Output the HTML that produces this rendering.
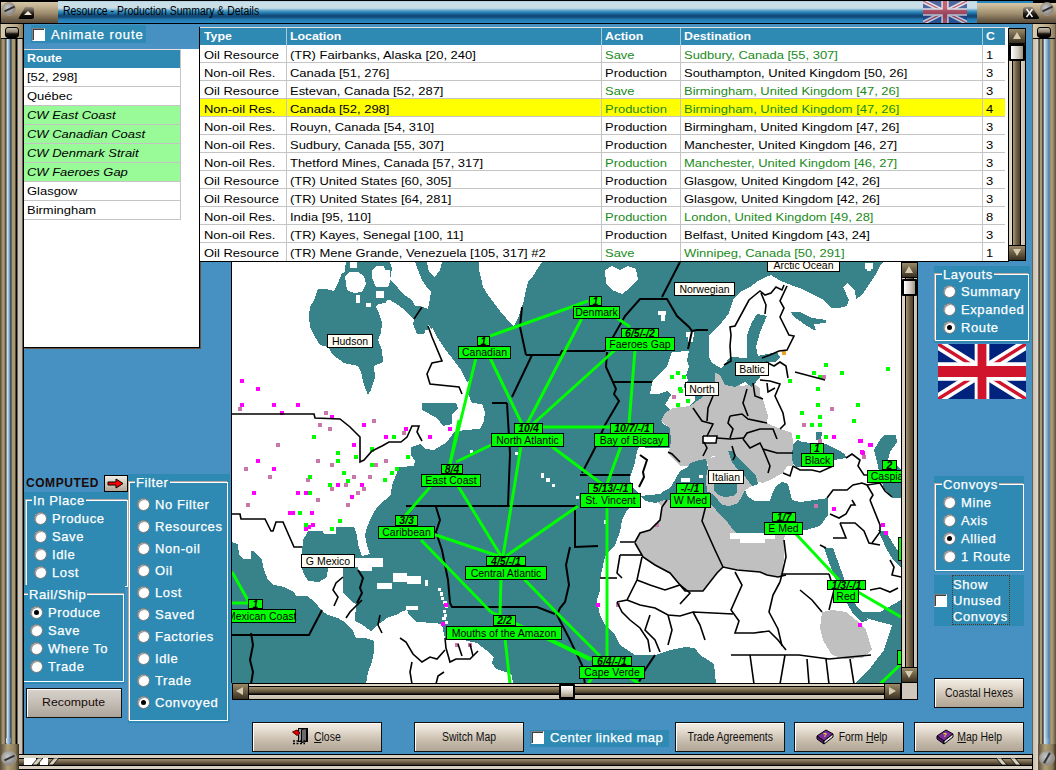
<!DOCTYPE html>
<html><head><meta charset="utf-8">
<style>
*{margin:0;padding:0;box-sizing:border-box}
html,body{width:1056px;height:770px;overflow:hidden}
body{position:relative;background:#4790c2;font-family:"Liberation Sans",sans-serif;}
.a{position:absolute}
.tx{position:absolute;white-space:nowrap}
.vs{display:inline-block;transform:scaleX(1.178);transform-origin:0 0;white-space:nowrap}
.ns{display:inline-block;transform:scaleX(0.87);transform-origin:0 0;white-space:nowrap}
.panel{position:absolute;background:#2e8ab3}
.grp{position:absolute;border:1px solid #fff;box-shadow:-1px -1px 0 #b8a8a4}
.glab{position:absolute;color:#fff;font-size:13px;letter-spacing:.6px;background:#2e8ab3;line-height:14px;padding:0 1px 0 1px;-webkit-text-stroke:.25px #fff}
.rl{position:absolute;color:#fff;font-size:13px;letter-spacing:.6px;line-height:14px;white-space:nowrap;-webkit-text-stroke:.25px #fff}
.rd{position:absolute;width:13px;height:13px;border-radius:50%;background:#fff;border:1px solid #777;box-shadow:inset 1px 1px 0 #999}
.rd.on::after{content:"";position:absolute;left:3px;top:3px;width:5px;height:5px;border-radius:50%;background:#000}
.btn{position:absolute;border:1px solid #111;background:linear-gradient(#f2ede5 0%,#e6ded2 25%,#d2c8ba 50%,#c0b4a4 75%,#b2a696 100%);box-shadow:inset 1px 1px 0 #fff;font-size:12px;color:#111;text-align:center}
.btn .ns{transform-origin:50% 0}
.cb{position:absolute;width:13px;height:13px;background:#fff;border:1px solid;border-color:#808080 #fff #fff #808080;box-shadow:inset 1px 1px 0 #404040}
</style></head><body>

<!-- ============ FRAME ============ -->
<!-- top bar -->
<div class="a" style="left:0;top:0;width:1056px;height:24px;background:#000"></div>
<div class="a" style="left:1px;top:2px;width:57px;height:21px;background:linear-gradient(#d6c7a8 0%,#bfae8c 25%,#9c8b6c 55%,#73634c 80%,#5a4c3c 100%)"></div>
<div class="a" style="left:58px;top:1px;width:920px;height:22px;background:linear-gradient(#9cc8e4 0px,#c8dfe8 1px,#c8dfe8 7px,#a8cce0 8px,#70acd0 9px,#4898c0 10px,#3088b8 11px,#2078a8 12px,#1a68a0 13px,#124a78 14px,#124a78 16px,#1a5a8c 17px,#2078b0 18px,#2a86c0 21px)"></div>
<div class="tx" style="left:63px;top:4px;font-size:12px;line-height:14px;color:#000"><span class="ns">Resource - Production Summary &amp; Details</span></div>
<!-- title flag -->
<svg class="a" style="left:923px;top:1px;opacity:.75" width="44" height="22" viewBox="0 0 60 30" preserveAspectRatio="none">
<rect width="60" height="30" fill="#2a3f86"/>
<path d="M0,0 L60,30 M60,0 L0,30" stroke="#e8e8f0" stroke-width="6"/>
<path d="M0,0 L60,30 M60,0 L0,30" stroke="#c84050" stroke-width="2"/>
<path d="M30,0 V30 M0,15 H60" stroke="#e8e8f0" stroke-width="10"/>
<path d="M30,0 V30 M0,15 H60" stroke="#c83848" stroke-width="6"/>
</svg>
<div class="a" style="left:977px;top:1px;width:56px;height:2px;background:#2a86c0"></div>
<div class="a" style="left:977px;top:3px;width:79px;height:20px;background:linear-gradient(#d6c7a8 0%,#bfae8c 25%,#9c8b6c 55%,#73634c 80%,#5a4c3c 100%)"></div>
<!-- screws -->
<div class="a" style="left:2px;top:2px;width:14px;height:14px;border-radius:50%;background:radial-gradient(circle at 40% 40%,#c8c8c8,#8a8a8a 70%,#6a6a6a);border:1px solid #a09078"></div>
<div class="a" style="left:4px;top:8px;width:11px;height:2px;background:#333;transform:rotate(-25deg)"></div>
<div class="a" style="left:1040px;top:2px;width:14px;height:14px;border-radius:50%;background:radial-gradient(circle at 40% 40%,#c8c8c8,#8a8a8a 70%,#6a6a6a);border:1px solid #a09078"></div>
<div class="a" style="left:1042px;top:8px;width:11px;height:2px;background:#333;transform:rotate(-25deg)"></div>
<!-- min button -->
<div class="a" style="left:18px;top:7px;width:16px;height:12px;background:linear-gradient(#9a9080,#1a1610 60%,#000);border-radius:3px 3px 2px 2px;clip-path:polygon(45% 0,100% 0,100% 100%,0 100%)"></div>
<div class="a" style="left:24px;top:11px;width:0;height:0;border-left:4px solid transparent;border-right:4px solid transparent;border-bottom:4px solid #f0e8d8"></div>
<!-- close button -->
<div class="a" style="left:1023px;top:7px;width:17px;height:12px;background:linear-gradient(#9a9080,#1a1610 60%,#000);border-radius:3px;clip-path:polygon(0 0,55% 0,100% 100%,0 100%)"></div>
<svg class="a" style="left:1025px;top:8px" width="9" height="10" viewBox="0 0 9 10"><path d="M1.5,1 L7.5,9 M7.5,1 L1.5,9" stroke="#fff" stroke-width="1.4"/></svg>

<!-- left frame -->
<div class="a" style="left:0;top:24px;width:24px;height:730px;background:linear-gradient(90deg,#4a4234 0px,#b0a078 3px,#8a7a58 5px,#222 6px,#e0ecf8 7px,#8ab0d0 9px,#4a80b0 10px,#303030 11px,#a89870 12px,#a89870 15px,#000 16px,#000 17px,#d0c8b8 18px,#c8c0b0 22px,#000 23px)"></div>
<div class="a" style="left:1px;top:24px;width:22px;height:15px;background:linear-gradient(90deg,#d8ccb0,#b8a888 70%,#8a7a5a);border-bottom:1px solid #000"></div>
<div class="a" style="left:5px;top:27px;width:14px;height:11px;background:linear-gradient(#c8c0a8,#8a8070 45%,#181410 65%,#000);border-radius:3px;border:1px solid #000"></div>
<!-- right frame -->
<div class="a" style="left:1032px;top:24px;width:24px;height:730px;background:linear-gradient(90deg,#000 0px,#c8c0b0 1px,#e0d8c8 6px,#000 7px,#a89870 8px,#a89870 10px,#000 11px,#d8e8f4 12px,#8ab0d0 15px,#4080b8 17px,#9a8a68 18px,#b0a078 20px,#5a5040 24px)"></div>
<div class="a" style="left:1033px;top:24px;width:22px;height:15px;background:linear-gradient(90deg,#d8ccb0,#b8a888 70%,#8a7a5a);border-bottom:1px solid #000"></div>
<div class="a" style="left:1037px;top:27px;width:14px;height:11px;background:linear-gradient(#c8c0a8,#8a8070 45%,#181410 65%,#000);border-radius:3px;border:1px solid #000"></div>
<!-- bottom frame -->
<div class="a" style="left:0;top:754px;width:1056px;height:16px;background:linear-gradient(#000 0px,#000 1px,#d8d0c0 1px,#d8d0c0 4px,#000 4px,#000 5px,#a09070 5px,#70604a 8px,#3a3020 11px,#000 11px,#000 12px,#d8d0c0 12px,#d8d0c0 15px,#000 15px)"></div>
<div class="a" style="left:0;top:744px;width:19px;height:26px;background:linear-gradient(90deg,#5a4c3c,#b0a078 40%,#8a7a58 80%,#3a3020)"></div>
<div class="a" style="left:6px;top:738px;width:5px;height:7px;background:linear-gradient(90deg,#e0ecf8,#4a80b0);clip-path:polygon(0 0,100% 0,100% 60%,50% 100%,0 60%)"></div>
<div class="a" style="left:1px;top:750px;width:16px;height:16px;border-radius:50%;background:radial-gradient(circle at 40% 40%,#c8c8c8,#8a8a8a 70%,#6a6a6a);border:1px solid #a09078"></div>
<div class="a" style="left:4px;top:757px;width:11px;height:2px;background:#333;transform:rotate(-25deg)"></div>
<svg class="a" style="left:24px;top:758px" width="40" height="8" viewBox="0 0 40 8"><rect x="0" y="0" width="12" height="7" fill="#fff"/><rect x="16" y="0" width="8" height="7" fill="#fff"/><path d="M8,7 L14,0 H19 L13,7 Z M24,7 L30,0 H35 L29,7 Z" fill="#d8d0c0" stroke="#000" stroke-width=".8"/></svg>
<div class="a" style="left:1032px;top:754px;width:7px;height:16px;background:linear-gradient(90deg,#000 0,#000 1px,#c8c0b0 1px,#e0d8c8 6px,#000 6px)"></div>
<div class="a" style="left:1038px;top:744px;width:18px;height:26px;background:linear-gradient(90deg,#5a4c3c,#b0a078 40%,#8a7a58 80%,#3a3020)"></div>
<div class="a" style="left:1044px;top:738px;width:6px;height:7px;background:linear-gradient(90deg,#e0ecf8,#4a80b0);clip-path:polygon(0 0,100% 0,100% 60%,50% 100%,0 60%)"></div>
<div class="a" style="left:1039px;top:750px;width:16px;height:16px;border-radius:50%;background:radial-gradient(circle at 40% 40%,#c8c8c8,#8a8a8a 70%,#6a6a6a);border:1px solid #a09078"></div>
<div class="a" style="left:1041px;top:757px;width:12px;height:2px;background:#333;transform:rotate(-60deg)"></div>
<svg class="a" style="left:990px;top:758px" width="42" height="8" viewBox="0 0 42 8"><path d="M6,0 H11 L17,7 H12 Z M20,0 H25 L31,7 H26 Z" fill="#d8d0c0" stroke="#000" stroke-width=".8"/></svg>

<!-- ============ ANIMATE ROUTE ============ -->
<div class="panel" style="left:31px;top:25px;width:115px;height:18px"></div>
<div class="cb" style="left:32px;top:28px"></div>
<div class="tx" style="left:51px;top:28px;font-size:13px;line-height:14px;color:#fff;letter-spacing:.9px;-webkit-text-stroke:.25px #fff">Animate route</div>

<!-- ============ ROUTE LIST ============ -->
<div class="a" style="left:24px;top:44px;width:176px;height:304px;background:#fff;border-right:1px solid #000;border-bottom:1px solid #000;box-shadow:1px 1px 0 #6a5040"></div>
<div class="a" style="left:24px;top:44px;width:176px;height:5px;background:#4a92c4"></div>
<div class="a" style="left:24px;top:49px;width:157px;height:1px;background:#e8e0dc"></div>
<div class="a" style="left:24px;top:50px;width:157px;height:18px;background:#2e8ab3"></div>
<div class="tx" style="left:27px;top:52px;font-size:11px;line-height:13px;font-weight:bold;color:#fff"><span class="vs" style="transform:scaleX(1.12)">Route</span></div>
<div class="a" style="left:24px;top:68px;width:157px;height:18px;background:#fff"></div>
<div class="a" style="left:24px;top:86px;width:157px;height:1px;background:#c4c4c4"></div>
<div class="tx" style="left:27px;top:71px;font-size:11px;line-height:13px;color:#000;"><span class="vs">[52, 298]</span></div>
<div class="a" style="left:24px;top:87px;width:157px;height:18px;background:#fff"></div>
<div class="a" style="left:24px;top:105px;width:157px;height:1px;background:#c4c4c4"></div>
<div class="tx" style="left:27px;top:90px;font-size:11px;line-height:13px;color:#000;"><span class="vs">Québec</span></div>
<div class="a" style="left:24px;top:106px;width:157px;height:18px;background:#98fb98"></div>
<div class="a" style="left:24px;top:124px;width:157px;height:1px;background:#c4c4c4"></div>
<div class="tx" style="left:27px;top:109px;font-size:11px;line-height:13px;color:#000;font-style:italic;"><span class="vs">CW East Coast</span></div>
<div class="a" style="left:24px;top:125px;width:157px;height:18px;background:#98fb98"></div>
<div class="a" style="left:24px;top:143px;width:157px;height:1px;background:#c4c4c4"></div>
<div class="tx" style="left:27px;top:128px;font-size:11px;line-height:13px;color:#000;font-style:italic;"><span class="vs">CW Canadian Coast</span></div>
<div class="a" style="left:24px;top:144px;width:157px;height:18px;background:#98fb98"></div>
<div class="a" style="left:24px;top:162px;width:157px;height:1px;background:#c4c4c4"></div>
<div class="tx" style="left:27px;top:147px;font-size:11px;line-height:13px;color:#000;font-style:italic;"><span class="vs">CW Denmark Strait</span></div>
<div class="a" style="left:24px;top:163px;width:157px;height:18px;background:#98fb98"></div>
<div class="a" style="left:24px;top:181px;width:157px;height:1px;background:#c4c4c4"></div>
<div class="tx" style="left:27px;top:166px;font-size:11px;line-height:13px;color:#000;font-style:italic;"><span class="vs">CW Faeroes Gap</span></div>
<div class="a" style="left:24px;top:182px;width:157px;height:18px;background:#fff"></div>
<div class="a" style="left:24px;top:200px;width:157px;height:1px;background:#c4c4c4"></div>
<div class="tx" style="left:27px;top:185px;font-size:11px;line-height:13px;color:#000;"><span class="vs">Glasgow</span></div>
<div class="a" style="left:24px;top:201px;width:157px;height:18px;background:#fff"></div>
<div class="a" style="left:24px;top:219px;width:157px;height:1px;background:#c4c4c4"></div>
<div class="tx" style="left:27px;top:204px;font-size:11px;line-height:13px;color:#000;"><span class="vs">Birmingham</span></div>
<div class="a" style="left:180px;top:50px;width:1px;height:170px;background:#c4c4c4"></div>

<!-- ============ TABLE ============ -->
<div class="a" style="left:199px;top:27px;width:810px;height:235px;background:#fff;border-left:1px solid #000;border-bottom:1px solid #000"></div>
<div class="a" style="left:200px;top:27px;width:808px;height:1px;background:#e8e0dc"></div>
<div class="a" style="left:200px;top:28px;width:805px;height:17px;background:#2e8ab3"></div>
<div class="tx" style="left:204px;top:30px;font-size:11px;line-height:13px;font-weight:bold;color:#fff"><span class="vs" style="transform:scaleX(1.12)">Type</span></div>
<div class="tx" style="left:290px;top:30px;font-size:11px;line-height:13px;font-weight:bold;color:#fff"><span class="vs" style="transform:scaleX(1.12)">Location</span></div>
<div class="tx" style="left:605px;top:30px;font-size:11px;line-height:13px;font-weight:bold;color:#fff"><span class="vs" style="transform:scaleX(1.12)">Action</span></div>
<div class="tx" style="left:684px;top:30px;font-size:11px;line-height:13px;font-weight:bold;color:#fff"><span class="vs" style="transform:scaleX(1.12)">Destination</span></div>
<div class="tx" style="left:986px;top:30px;font-size:11px;line-height:13px;font-weight:bold;color:#fff"><span class="vs" style="transform:scaleX(1.12)">C</span></div>
<div class="a" style="left:200px;top:62px;width:805px;height:1px;background:#c4c4c4"></div>
<div class="tx" style="left:204px;top:49px;font-size:11px;line-height:13px;color:#000"><span class="vs">Oil Resource</span></div>
<div class="tx" style="left:290px;top:49px;font-size:11px;line-height:13px;color:#000"><span class="vs">(TR) Fairbanks, Alaska [20, 240]</span></div>
<div class="tx" style="left:605px;top:49px;font-size:11px;line-height:13px;color:#1a8a1a"><span class="vs">Save</span></div>
<div class="tx" style="left:684px;top:49px;font-size:11px;line-height:13px;color:#1a8a1a"><span class="vs">Sudbury, Canada [55, 307]</span></div>
<div class="tx" style="left:986px;top:49px;font-size:11px;line-height:13px;color:#000"><span class="vs">1</span></div>
<div class="a" style="left:200px;top:80px;width:805px;height:1px;background:#c4c4c4"></div>
<div class="tx" style="left:204px;top:67px;font-size:11px;line-height:13px;color:#000"><span class="vs">Non-oil Res.</span></div>
<div class="tx" style="left:290px;top:67px;font-size:11px;line-height:13px;color:#000"><span class="vs">Canada [51, 276]</span></div>
<div class="tx" style="left:605px;top:67px;font-size:11px;line-height:13px;color:#000"><span class="vs">Production</span></div>
<div class="tx" style="left:684px;top:67px;font-size:11px;line-height:13px;color:#000"><span class="vs">Southampton, United Kingdom [50, 26]</span></div>
<div class="tx" style="left:986px;top:67px;font-size:11px;line-height:13px;color:#000"><span class="vs">3</span></div>
<div class="a" style="left:200px;top:98px;width:805px;height:1px;background:#c4c4c4"></div>
<div class="tx" style="left:204px;top:85px;font-size:11px;line-height:13px;color:#000"><span class="vs">Oil Resource</span></div>
<div class="tx" style="left:290px;top:85px;font-size:11px;line-height:13px;color:#000"><span class="vs">Estevan, Canada [52, 287]</span></div>
<div class="tx" style="left:605px;top:85px;font-size:11px;line-height:13px;color:#1a8a1a"><span class="vs">Save</span></div>
<div class="tx" style="left:684px;top:85px;font-size:11px;line-height:13px;color:#1a8a1a"><span class="vs">Birmingham, United Kingdom [47, 26]</span></div>
<div class="tx" style="left:986px;top:85px;font-size:11px;line-height:13px;color:#000"><span class="vs">3</span></div>
<div class="a" style="left:200px;top:99px;width:805px;height:17px;background:#ffff00"></div>
<div class="a" style="left:200px;top:116px;width:805px;height:1px;background:#c4c4c4"></div>
<div class="tx" style="left:204px;top:103px;font-size:11px;line-height:13px;color:#000"><span class="vs">Non-oil Res.</span></div>
<div class="tx" style="left:290px;top:103px;font-size:11px;line-height:13px;color:#000"><span class="vs">Canada [52, 298]</span></div>
<div class="tx" style="left:605px;top:103px;font-size:11px;line-height:13px;color:#1a8a1a"><span class="vs">Production</span></div>
<div class="tx" style="left:684px;top:103px;font-size:11px;line-height:13px;color:#1a8a1a"><span class="vs">Birmingham, United Kingdom [47, 26]</span></div>
<div class="tx" style="left:986px;top:103px;font-size:11px;line-height:13px;color:#000"><span class="vs">4</span></div>
<div class="a" style="left:200px;top:134px;width:805px;height:1px;background:#c4c4c4"></div>
<div class="tx" style="left:204px;top:121px;font-size:11px;line-height:13px;color:#000"><span class="vs">Non-oil Res.</span></div>
<div class="tx" style="left:290px;top:121px;font-size:11px;line-height:13px;color:#000"><span class="vs">Rouyn, Canada [54, 310]</span></div>
<div class="tx" style="left:605px;top:121px;font-size:11px;line-height:13px;color:#000"><span class="vs">Production</span></div>
<div class="tx" style="left:684px;top:121px;font-size:11px;line-height:13px;color:#000"><span class="vs">Birmingham, United Kingdom [47, 26]</span></div>
<div class="tx" style="left:986px;top:121px;font-size:11px;line-height:13px;color:#000"><span class="vs">3</span></div>
<div class="a" style="left:200px;top:152px;width:805px;height:1px;background:#c4c4c4"></div>
<div class="tx" style="left:204px;top:139px;font-size:11px;line-height:13px;color:#000"><span class="vs">Non-oil Res.</span></div>
<div class="tx" style="left:290px;top:139px;font-size:11px;line-height:13px;color:#000"><span class="vs">Sudbury, Canada [55, 307]</span></div>
<div class="tx" style="left:605px;top:139px;font-size:11px;line-height:13px;color:#000"><span class="vs">Production</span></div>
<div class="tx" style="left:684px;top:139px;font-size:11px;line-height:13px;color:#000"><span class="vs">Manchester, United Kingdom [46, 27]</span></div>
<div class="tx" style="left:986px;top:139px;font-size:11px;line-height:13px;color:#000"><span class="vs">3</span></div>
<div class="a" style="left:200px;top:170px;width:805px;height:1px;background:#c4c4c4"></div>
<div class="tx" style="left:204px;top:157px;font-size:11px;line-height:13px;color:#000"><span class="vs">Non-oil Res.</span></div>
<div class="tx" style="left:290px;top:157px;font-size:11px;line-height:13px;color:#000"><span class="vs">Thetford Mines, Canada [57, 317]</span></div>
<div class="tx" style="left:605px;top:157px;font-size:11px;line-height:13px;color:#1a8a1a"><span class="vs">Production</span></div>
<div class="tx" style="left:684px;top:157px;font-size:11px;line-height:13px;color:#1a8a1a"><span class="vs">Manchester, United Kingdom [46, 27]</span></div>
<div class="tx" style="left:986px;top:157px;font-size:11px;line-height:13px;color:#000"><span class="vs">3</span></div>
<div class="a" style="left:200px;top:188px;width:805px;height:1px;background:#c4c4c4"></div>
<div class="tx" style="left:204px;top:175px;font-size:11px;line-height:13px;color:#000"><span class="vs">Oil Resource</span></div>
<div class="tx" style="left:290px;top:175px;font-size:11px;line-height:13px;color:#000"><span class="vs">(TR) United States [60, 305]</span></div>
<div class="tx" style="left:605px;top:175px;font-size:11px;line-height:13px;color:#000"><span class="vs">Production</span></div>
<div class="tx" style="left:684px;top:175px;font-size:11px;line-height:13px;color:#000"><span class="vs">Glasgow, United Kingdom [42, 26]</span></div>
<div class="tx" style="left:986px;top:175px;font-size:11px;line-height:13px;color:#000"><span class="vs">3</span></div>
<div class="a" style="left:200px;top:206px;width:805px;height:1px;background:#c4c4c4"></div>
<div class="tx" style="left:204px;top:193px;font-size:11px;line-height:13px;color:#000"><span class="vs">Oil Resource</span></div>
<div class="tx" style="left:290px;top:193px;font-size:11px;line-height:13px;color:#000"><span class="vs">(TR) United States [64, 281]</span></div>
<div class="tx" style="left:605px;top:193px;font-size:11px;line-height:13px;color:#000"><span class="vs">Production</span></div>
<div class="tx" style="left:684px;top:193px;font-size:11px;line-height:13px;color:#000"><span class="vs">Glasgow, United Kingdom [42, 26]</span></div>
<div class="tx" style="left:986px;top:193px;font-size:11px;line-height:13px;color:#000"><span class="vs">3</span></div>
<div class="a" style="left:200px;top:224px;width:805px;height:1px;background:#c4c4c4"></div>
<div class="tx" style="left:204px;top:211px;font-size:11px;line-height:13px;color:#000"><span class="vs">Non-oil Res.</span></div>
<div class="tx" style="left:290px;top:211px;font-size:11px;line-height:13px;color:#000"><span class="vs">India [95, 110]</span></div>
<div class="tx" style="left:605px;top:211px;font-size:11px;line-height:13px;color:#1a8a1a"><span class="vs">Production</span></div>
<div class="tx" style="left:684px;top:211px;font-size:11px;line-height:13px;color:#1a8a1a"><span class="vs">London, United Kingdom [49, 28]</span></div>
<div class="tx" style="left:986px;top:211px;font-size:11px;line-height:13px;color:#000"><span class="vs">8</span></div>
<div class="a" style="left:200px;top:242px;width:805px;height:1px;background:#c4c4c4"></div>
<div class="tx" style="left:204px;top:229px;font-size:11px;line-height:13px;color:#000"><span class="vs">Non-oil Res.</span></div>
<div class="tx" style="left:290px;top:229px;font-size:11px;line-height:13px;color:#000"><span class="vs">(TR) Kayes, Senegal [100, 11]</span></div>
<div class="tx" style="left:605px;top:229px;font-size:11px;line-height:13px;color:#000"><span class="vs">Production</span></div>
<div class="tx" style="left:684px;top:229px;font-size:11px;line-height:13px;color:#000"><span class="vs">Belfast, United Kingdom [43, 24]</span></div>
<div class="tx" style="left:986px;top:229px;font-size:11px;line-height:13px;color:#000"><span class="vs">3</span></div>
<div class="tx" style="left:204px;top:247px;font-size:11px;line-height:13px;color:#000"><span class="vs">Oil Resource</span></div>
<div class="tx" style="left:290px;top:247px;font-size:11px;line-height:13px;color:#000"><span class="vs">(TR) Mene Grande, Venezuela [105, 317] #2</span></div>
<div class="tx" style="left:605px;top:247px;font-size:11px;line-height:13px;color:#1a8a1a"><span class="vs">Save</span></div>
<div class="tx" style="left:684px;top:247px;font-size:11px;line-height:13px;color:#1a8a1a"><span class="vs">Winnipeg, Canada [50, 291]</span></div>
<div class="tx" style="left:986px;top:247px;font-size:11px;line-height:13px;color:#000"><span class="vs">1</span></div>
<div class="a" style="left:286px;top:28px;width:1px;height:233px;background:#c4c4c4"></div>
<div class="a" style="left:601px;top:28px;width:1px;height:233px;background:#c4c4c4"></div>
<div class="a" style="left:680px;top:28px;width:1px;height:233px;background:#c4c4c4"></div>
<div class="a" style="left:982px;top:28px;width:1px;height:233px;background:#c4c4c4"></div>
<div class="a" style="left:286px;top:28px;width:1px;height:17px;background:#a8c8dc"></div>
<div class="a" style="left:601px;top:28px;width:1px;height:17px;background:#a8c8dc"></div>
<div class="a" style="left:680px;top:28px;width:1px;height:17px;background:#a8c8dc"></div>
<div class="a" style="left:982px;top:28px;width:1px;height:17px;background:#a8c8dc"></div>
<div class="a" style="left:1008px;top:28px;width:18px;height:233px;background:linear-gradient(90deg,#000 0,#000 1px,#d8d0c0 1px,#e6dccb 4px,#000 4px,#000 5px,#a89878 5px,#6a5a40 9px,#4a3e2c 12px,#000 12px,#000 13px,#d8d0c0 13px,#c8bca8 17px,#000 17px)"></div>
<div class="a" style="left:1008px;top:28px;width:18px;height:16px;background:linear-gradient(#9a8a68,#3a3020);border:1px solid #000"></div>
<div class="a" style="left:1013px;top:32px;width:0;height:0;border-left:4px solid transparent;border-right:4px solid transparent;border-bottom:7px solid #d8ccb0"></div>
<div class="a" style="left:1008px;top:245px;width:18px;height:16px;background:linear-gradient(#9a8a68,#3a3020);border:1px solid #000"></div>
<div class="a" style="left:1013px;top:249px;width:0;height:0;border-left:4px solid transparent;border-right:4px solid transparent;border-top:7px solid #d8ccb0"></div>
<div class="a" style="left:1009px;top:44px;width:16px;height:17px;background:linear-gradient(90deg,#fff,#d0c8bc 60%,#a09480);border:2px solid #000;border-radius:1px"></div>

<!-- ============ MAP ============ -->
<svg class="a" style="left:231px;top:262px" width="670" height="421" viewBox="231 262 670 421" shape-rendering="crispEdges">
<rect x="231" y="262" width="670" height="421" fill="#38828a"/>
<polygon points="231,262 415,262 418,270 422,280 426,286 431,292 430,299 428,309 432,318 432,327 437,337 445,349 455,362 461,370 467,382 470,380 468,394 472,403 482,404 485,412 484,421 480,429 464,430 454,432 447,442 434,450 425,449 420,444 411,447 411,455 415,461 414,466 399,467 396,475 392,485 391,494 385,500 377,507 372,516 367,527 365,535 367,545 370,554 362,556 358,545 357,535 354,527 336,527 336,534 324,534 323,531 308,531 306,535 303,540 302,552 301,565 304,574 308,581 319,582 327,577 328,568 343,568 343,593 352,602 356,604 355,621 361,624 364,626 371,631 376,626 383,621 386,618 396,615 403,611 407,610 409,615 416,622 436,623 442,625 445,638 459,639 477,643 486,650 494,657 492,663 496,669 509,673 512,676 513,684 366,684 368,672 372,662 374,652 374,641 366,638 356,638 353,631 346,623 338,618 328,615 321,610 315,602 307,596 296,596 294,592 284,587 274,585 268,580 264,570 262,560 254,551 251,551 251,559 244,559 239,555 238,544 231,542" fill="#ffffff" />
<polygon points="479,262 542,262 538,268 533,276 528,282 526,290 524,300 521,310 518,318 514,326 510,323 506,318 500,311 494,303 488,295 483,287 481,278 479,270" fill="#ffffff" />
<polygon points="427,262 442,262 440,270 435,277 429,272" fill="#ffffff" />
<polygon points="605,270 612,266 620,270 628,266 636,269 638,279 630,288 622,294 612,290 606,284" fill="#ffffff" />
<polygon points="672,352 689,351 687,360 689,367 686,375 688,380 684,385 685,390 695,395 695,400 690,406 680,408 671,410 665,405 668,400 671,395 668,391 658,394 650,394 651,388 653,380 661,372 667,367 669,361" fill="#ffffff" />
<polygon points="901,262 883,262 881,264 876,274 870,283 862,295 856,299 855,291 847,283 843,287 849,300 847,306 839,308 831,308 824,300 814,295 802,289 791,285 781,281 771,275 766,277 758,281 750,287 740,292 733,300 729,313 719,326 712,332 709,336 709,357 712,363 721,368 716,371 715,382 704,395 700,402 689,410 668,416 665,416 662,423 670,428 671,441 670,448 660,448 650,448 639,447 637,451 636,457 634,466 630,478 631,486 637,491 640,496 637,500 635,505 627,510 622,520 620,532 615,545 610,550 605,557 602,570 600,580 600,590 597,600 600,615 605,625 615,635 620,645 635,655 655,655 670,650 685,647 695,648 700,655 708,660 714,664 716,684 901,684" fill="#ffffff" />
<polygon points="661,421 665,413 673,408 690,406 700,399 708,391 715,388 715,373 727,371 730,384 743,386 753,383 760,388 760,396 763,399 768,416 767,423 780,429 792,433 793,443 793,466 787,466 783,473 770,480 763,483 753,481 745,478 740,470 733,462 727,458 720,455 713,456 706,461 700,463 690,466 680,466 668,453 670,448 671,441 670,428" fill="#c0c0c0" />
<polygon points="707,459 716,456 728,451 733,458 738,465 746,472 755,480 752,486 745,490 742,496 738,503 730,506 722,505 718,500 712,494 707,490 706,478 708,468" fill="#c0c0c0" />
<polygon points="655,500 667,498 720,498 785,505 785,525 783,575 776,577 767,575 760,572 737,570 723,567 717,573 703,591 685,591 670,573 655,565 643,557 635,543 640,533 650,530 660,520 662,507" fill="#c0c0c0" />
<polygon points="822,612 832,610 846,612 856,620 866,630 872,650 862,658 846,659 832,655 823,640 820,628" fill="#c0c0c0" />
<polygon points="309,316 310,307 314,300 318,289 326,289 334,291 338,283 342,273 346,272 344,285 352,292 362,291 370,287 378,288 384,292 390,300 398,305 406,311 413,318 417,325 421,330 428,330 427,318 418,311 410,304 402,297 394,291 390,288 386,303 378,304 376,307 379,313 382,323 381,333 378,340 382,350 383,362 374,366 375,378 371,390 368,395 364,385 361,372 358,366 344,363 333,355 328,347 320,345 315,337 310,327" fill="#38828a" />
<polygon points="346,262 390,262 392,268 390,280 394,284 398,288 401,292 406,296 412,300 415,306 420,306 428,309 433,312 432,330 428,324 424,334 417,334 413,324 414,320 410,316 404,309 397,304 393,299 374,304 372,300 360,300 350,300 344,290 340,285 344,275" fill="#38828a" />
<polygon points="422,403 456,403 458,408 452,414 452,424 443,426 437,418 422,410" fill="#38828a" />
<polygon points="640,496 650,495 660,494 664,491 670,488 675,480 680,471 688,467 690,463 700,460 706,459 708,468 706,478 707,490 712,494 718,500 722,505 730,506 738,503 742,496 745,490 748,497 755,501 770,501 772,494 776,486 782,482 788,484 790,492 792,500 800,502 815,500 828,498 828,515 820,526 806,530 795,532 780,526 768,530 758,536 745,538 735,532 728,523 720,515 712,505 700,502 690,500 678,500 665,500 655,503 645,501" fill="#38828a" />
<polygon points="728,451 733,451 740,460 748,468 756,476 758,484 752,486 746,478 738,470 732,462" fill="#38828a" />
<polygon points="714,482 722,482 730,484 737,484 737,492 733,496 725,497 718,495 714,490" fill="#38828a" />
<polygon points="793,444 798,440 802,442 812,443 826,444 832,447 840,451 845,454 846,458 834,460 833,466 797,467 793,464 792,457" fill="#38828a" />
<polygon points="816,432 822,432 821,440 816,440" fill="#38828a" />
<polygon points="884,435 896,435 897,442 890,452 888,460 897,465 901,470 901,498 892,498 884,488 881,480 877,462 874,450 880,440" fill="#38828a" />
<polygon points="824,548 833,548 841,570 848,590 856,605 862,612 868,620 862,622 854,615 845,600 838,585 830,565" fill="#38828a" />
<polygon points="878,530 886,532 894,545 901,555 901,568 893,560 886,548" fill="#38828a" />
<polygon points="854,684 871,667 884,650 892,625 880,622 866,618 862,612 880,612 901,600 901,684" fill="#38828a" />
<polygon points="757,314 767,316 760,332 756,347 758,356 777,352 780,357 775,362 760,362 760,377 752,387 745,382 735,387 725,385 720,375 715,372 716,368 722,368 730,357 747,358 747,350 747,335 752,322" fill="#38828a" />
<polygon points="791,312 800,312 812,318 826,320 826,323 814,324 816,330 814,330 804,324 793,316" fill="#38828a" />
<polygon points="372,270 376,266 384,266 385,270 390,270 390,282 388,287 376,287 372,278" fill="#ffffff" />
<polygon points="376,291 384,291 384,298 376,298" fill="#ffffff" />
<polygon points="350,262 357,262 357,268 350,268" fill="#ffffff" />
<polygon points="345,276 350,272 358,272 364,276 366,284 362,292 354,293 347,290" fill="#ffffff" />
<polygon points="356,295 360,295 360,303 356,303" fill="#ffffff" />
<polygon points="366,303 371,303 371,307 366,307" fill="#ffffff" />
<polygon points="706,479 714,479 714,492 707,492" fill="#c0c0c0" />
<rect x="438" y="588" width="3" height="3" fill="#fff"/>
<rect x="440" y="592" width="3" height="4" fill="#fff"/>
<rect x="441" y="597" width="3" height="3" fill="#fff"/>
<rect x="443" y="601" width="4" height="3" fill="#fff"/>
<rect x="445" y="605" width="3" height="3" fill="#fff"/>
<rect x="443" y="610" width="3" height="3" fill="#fff"/>
<rect x="444" y="614" width="3" height="3" fill="#fff"/>
<rect x="442" y="617" width="4" height="3" fill="#fff"/>
<rect x="445" y="621" width="3" height="3" fill="#fff"/>
<rect x="349" y="558" width="34" height="9" fill="#fff"/>
<rect x="358" y="567" width="14" height="4" fill="#fff"/>
<rect x="393" y="573" width="14" height="9" fill="#fff"/>
<rect x="407" y="576" width="14" height="8" fill="#fff"/>
<rect x="377" y="583" width="15" height="6" fill="#fff"/>
<rect x="406" y="606" width="12" height="4" fill="#fff"/>
<rect x="425" y="580" width="3" height="6" fill="#fff"/>
<rect x="604" y="520" width="3" height="4" fill="#fff"/>
<rect x="865" y="263" width="8" height="6" fill="#fff"/>
<rect x="867" y="269" width="4" height="2" fill="#fff"/>
<rect x="703" y="436" width="14" height="7" fill="#fff"/>
<rect x="686" y="332" width="8" height="5" fill="#fff"/>
<rect x="688" y="337" width="5" height="5" fill="#fff"/>
<rect x="658" y="311" width="8" height="4" fill="#fff"/>
<rect x="661" y="315" width="4" height="6" fill="#fff"/>
<rect x="730" y="533" width="45" height="6" fill="#fff"/>
<rect x="740" y="539" width="25" height="4" fill="#fff"/>
<rect x="681" y="478" width="9" height="4" fill="#fff"/>
<rect x="699" y="475" width="4" height="3" fill="#fff"/>
<rect x="470" y="450" width="3" height="3" fill="#fff"/>
<rect x="515" y="452" width="3" height="3" fill="#fff"/>
<rect x="541" y="473" width="3" height="5" fill="#fff"/>
<rect x="546" y="478" width="4" height="4" fill="#fff"/>
<rect x="552" y="484" width="3" height="3" fill="#fff"/>
<rect x="576" y="496" width="3" height="3" fill="#fff"/>
<rect x="276" y="443" width="4" height="4" fill="#c878a8"/><rect x="244" y="467" width="4" height="4" fill="#c878a8"/><rect x="268" y="475" width="4" height="4" fill="#c878a8"/><rect x="316" y="459" width="4" height="4" fill="#c878a8"/><rect x="330" y="463" width="4" height="4" fill="#c878a8"/><rect x="306" y="478" width="4" height="4" fill="#c878a8"/><rect x="316" y="498" width="4" height="4" fill="#c878a8"/><rect x="246" y="503" width="4" height="4" fill="#c878a8"/><rect x="352" y="475" width="4" height="4" fill="#c878a8"/><rect x="344" y="483" width="4" height="4" fill="#c878a8"/><rect x="330" y="487" width="4" height="4" fill="#c878a8"/><rect x="356" y="491" width="4" height="4" fill="#c878a8"/><rect x="362" y="487" width="4" height="4" fill="#c878a8"/><rect x="368" y="475" width="4" height="4" fill="#c878a8"/><rect x="384" y="459" width="4" height="4" fill="#c878a8"/><rect x="374" y="463" width="4" height="4" fill="#c878a8"/><rect x="346" y="503" width="4" height="4" fill="#c878a8"/><rect x="238" y="407" width="4" height="4" fill="#c878a8"/><rect x="324" y="411" width="4" height="4" fill="#c878a8"/><rect x="318" y="423" width="4" height="4" fill="#c878a8"/><rect x="328" y="427" width="4" height="4" fill="#c878a8"/><rect x="372" y="419" width="4" height="4" fill="#c878a8"/><rect x="402" y="431" width="4" height="4" fill="#c878a8"/><rect x="276" y="443" width="4" height="4" fill="#c878a8"/><rect x="822" y="375" width="4" height="4" fill="#c878a8"/><rect x="830" y="407" width="4" height="4" fill="#c878a8"/><rect x="802" y="423" width="4" height="4" fill="#c878a8"/><rect x="818" y="439" width="4" height="4" fill="#c878a8"/><rect x="862" y="455" width="4" height="4" fill="#c878a8"/><rect x="814" y="504" width="4" height="4" fill="#c878a8"/><rect x="672" y="395" width="4" height="4" fill="#c878a8"/><rect x="616" y="603" width="4" height="4" fill="#c878a8"/><rect x="655" y="523" width="4" height="4" fill="#c878a8"/><rect x="455" y="643" width="4" height="4" fill="#c878a8"/><rect x="468" y="643" width="4" height="4" fill="#c878a8"/><rect x="256" y="459" width="4" height="4" fill="#ff00ff"/><rect x="272" y="467" width="4" height="4" fill="#ff00ff"/><rect x="252" y="491" width="4" height="4" fill="#ff00ff"/><rect x="296" y="491" width="4" height="4" fill="#ff00ff"/><rect x="304" y="491" width="4" height="4" fill="#ff00ff"/><rect x="288" y="511" width="4" height="4" fill="#ff00ff"/><rect x="310" y="511" width="4" height="4" fill="#ff00ff"/><rect x="336" y="483" width="4" height="4" fill="#ff00ff"/><rect x="360" y="483" width="4" height="4" fill="#ff00ff"/><rect x="350" y="495" width="4" height="4" fill="#ff00ff"/><rect x="352" y="443" width="4" height="4" fill="#ff00ff"/><rect x="304" y="527" width="4" height="4" fill="#ff00ff"/><rect x="311" y="523" width="4" height="4" fill="#ff00ff"/><rect x="291" y="511" width="4" height="4" fill="#ff00ff"/><rect x="307" y="525" width="4" height="4" fill="#ff00ff"/><rect x="240" y="379" width="4" height="4" fill="#ff00ff"/><rect x="256" y="387" width="4" height="4" fill="#ff00ff"/><rect x="240" y="403" width="4" height="4" fill="#ff00ff"/><rect x="272" y="403" width="4" height="4" fill="#ff00ff"/><rect x="296" y="403" width="4" height="4" fill="#ff00ff"/><rect x="280" y="411" width="4" height="4" fill="#ff00ff"/><rect x="330" y="415" width="4" height="4" fill="#ff00ff"/><rect x="362" y="423" width="4" height="4" fill="#ff00ff"/><rect x="404" y="427" width="4" height="4" fill="#ff00ff"/><rect x="428" y="435" width="4" height="4" fill="#ff00ff"/><rect x="448" y="427" width="4" height="4" fill="#ff00ff"/><rect x="384" y="435" width="4" height="4" fill="#ff00ff"/><rect x="352" y="443" width="4" height="4" fill="#ff00ff"/><rect x="832" y="435" width="4" height="4" fill="#ff00ff"/><rect x="858" y="439" width="4" height="4" fill="#ff00ff"/><rect x="868" y="443" width="4" height="4" fill="#ff00ff"/><rect x="860" y="450" width="4" height="4" fill="#ff00ff"/><rect x="859" y="439" width="4" height="4" fill="#ff00ff"/><rect x="869" y="443" width="4" height="4" fill="#ff00ff"/><rect x="861" y="451" width="4" height="4" fill="#ff00ff"/><rect x="832" y="507" width="4" height="4" fill="#ff00ff"/><rect x="881" y="523" width="4" height="4" fill="#ff00ff"/><rect x="884" y="531" width="4" height="4" fill="#ff00ff"/><rect x="858" y="623" width="4" height="4" fill="#ff00ff"/><rect x="596" y="603" width="4" height="4" fill="#ff00ff"/><rect x="444" y="603" width="4" height="4" fill="#ff00ff"/><rect x="441" y="622" width="4" height="4" fill="#ff00ff"/><rect x="336" y="451" width="4" height="4" fill="#00ff00"/><rect x="336" y="459" width="4" height="4" fill="#00ff00"/><rect x="342" y="471" width="4" height="4" fill="#00ff00"/><rect x="346" y="479" width="4" height="4" fill="#00ff00"/><rect x="328" y="483" width="4" height="4" fill="#00ff00"/><rect x="308" y="475" width="4" height="4" fill="#00ff00"/><rect x="308" y="491" width="4" height="4" fill="#00ff00"/><rect x="298" y="511" width="4" height="4" fill="#00ff00"/><rect x="304" y="523" width="4" height="4" fill="#00ff00"/><rect x="338" y="519" width="4" height="4" fill="#00ff00"/><rect x="330" y="527" width="4" height="4" fill="#00ff00"/><rect x="370" y="448" width="4" height="4" fill="#00ff00"/><rect x="354" y="455" width="4" height="4" fill="#00ff00"/><rect x="370" y="463" width="4" height="4" fill="#00ff00"/><rect x="383" y="478" width="4" height="4" fill="#00ff00"/><rect x="390" y="471" width="4" height="4" fill="#00ff00"/><rect x="406" y="455" width="4" height="4" fill="#00ff00"/><rect x="395" y="467" width="4" height="4" fill="#00ff00"/><rect x="312" y="435" width="4" height="4" fill="#00ff00"/><rect x="392" y="435" width="4" height="4" fill="#00ff00"/><rect x="370" y="447" width="4" height="4" fill="#00ff00"/><rect x="824" y="363" width="4" height="4" fill="#00ff00"/><rect x="812" y="371" width="4" height="4" fill="#00ff00"/><rect x="818" y="375" width="4" height="4" fill="#00ff00"/><rect x="840" y="371" width="4" height="4" fill="#00ff00"/><rect x="886" y="367" width="4" height="4" fill="#00ff00"/><rect x="788" y="379" width="4" height="4" fill="#00ff00"/><rect x="816" y="387" width="4" height="4" fill="#00ff00"/><rect x="816" y="403" width="4" height="4" fill="#00ff00"/><rect x="856" y="403" width="4" height="4" fill="#00ff00"/><rect x="800" y="411" width="4" height="4" fill="#00ff00"/><rect x="818" y="415" width="4" height="4" fill="#00ff00"/><rect x="852" y="419" width="4" height="4" fill="#00ff00"/><rect x="810" y="423" width="4" height="4" fill="#00ff00"/><rect x="818" y="423" width="4" height="4" fill="#00ff00"/><rect x="796" y="435" width="4" height="4" fill="#00ff00"/><rect x="824" y="435" width="4" height="4" fill="#00ff00"/><rect x="676" y="371" width="4" height="4" fill="#00ff00"/><rect x="670" y="375" width="4" height="4" fill="#00ff00"/><rect x="682" y="375" width="4" height="4" fill="#00ff00"/><rect x="678" y="387" width="4" height="4" fill="#00ff00"/><rect x="679" y="389" width="4" height="4" fill="#00ff00"/><rect x="686" y="399" width="4" height="4" fill="#00ff00"/><rect x="676" y="403" width="4" height="4" fill="#00ff00"/><rect x="782" y="351" width="4" height="4" fill="#f0a020"/>
<polyline points="231,414 314,414 315,418 340,419 350,427 360,437 360,462 364,460 372,451 382,446 389,442 401,442 407,437 412,426 419,426 417,432 422,441" fill="none" stroke="#000" stroke-width="1.6" shape-rendering="auto"/>
<polyline points="231,514 240,514 241,519 265,519 271,531 273,531 276,522 283,522 294,547 302,547" fill="none" stroke="#000" stroke-width="1.6" shape-rendering="auto"/>
<polyline points="428,326 432,337 442,361 432,363 427,374 430,384 459,387 462,394" fill="none" stroke="#000" stroke-width="1.6" shape-rendering="auto"/>
<polyline points="414,319 422,307" fill="none" stroke="#000" stroke-width="1.6" shape-rendering="auto"/>
<polyline points="343,577 336,583 333,590 338,597 334,606" fill="none" stroke="#000" stroke-width="1.6" shape-rendering="auto"/>
<polyline points="362,600 356,606 350,612 346,618" fill="none" stroke="#000" stroke-width="1.6" shape-rendering="auto"/>
<polyline points="380,615 378,625 382,633" fill="none" stroke="#000" stroke-width="1.6" shape-rendering="auto"/>
<polyline points="400,638 406,642 413,654 422,662 430,657 437,659 445,650" fill="none" stroke="#000" stroke-width="1.6" shape-rendering="auto"/>
<polyline points="445,638 446,648 448,655 450,662 456,659 470,659 478,651" fill="none" stroke="#000" stroke-width="1.6" shape-rendering="auto"/>
<polyline points="458,644 462,656" fill="none" stroke="#000" stroke-width="1.6" shape-rendering="auto"/>
<polyline points="470,644 473,656" fill="none" stroke="#000" stroke-width="1.6" shape-rendering="auto"/>
<polyline points="412,662 410,672 412,684" fill="none" stroke="#000" stroke-width="1.6" shape-rendering="auto"/>
<polyline points="436,684 438,676 444,672" fill="none" stroke="#000" stroke-width="1.6" shape-rendering="auto"/>
<polyline points="724,365 731,361 730,346 731,335 730,327 735,326 749,300 755,295 760,291 765,295 771,293 776,287 782,290 784,285" fill="none" stroke="#000" stroke-width="1.6" shape-rendering="auto"/>
<polyline points="761,293 766,305 765,314" fill="none" stroke="#000" stroke-width="1.6" shape-rendering="auto"/>
<polyline points="787,286 780,301 784,308 780,317 789,335 794,336 787,350 779,351 770,355 762,358" fill="none" stroke="#000" stroke-width="1.6" shape-rendering="auto"/>
<polyline points="766,362 774,366 780,362 786,366 788,378" fill="none" stroke="#000" stroke-width="1.6" shape-rendering="auto"/>
<polyline points="760,380 770,381 780,384 775,396 783,413 785,424 780,429" fill="none" stroke="#000" stroke-width="1.6" shape-rendering="auto"/>
<polyline points="693,408 702,421 713,424 707,436" fill="none" stroke="#000" stroke-width="1.6" shape-rendering="auto"/>
<polyline points="713,396 708,408 707,421" fill="none" stroke="#000" stroke-width="1.6" shape-rendering="auto"/>
<polyline points="703,436 717,436 716,443 703,443 703,436" fill="none" stroke="#000" stroke-width="1.6" shape-rendering="auto"/>
<polyline points="717,438 730,439 743,438" fill="none" stroke="#000" stroke-width="1.6" shape-rendering="auto"/>
<polyline points="730,416 742,414 748,419 767,423" fill="none" stroke="#000" stroke-width="1.6" shape-rendering="auto"/>
<polyline points="730,416 728,423 733,429 730,438" fill="none" stroke="#000" stroke-width="1.6" shape-rendering="auto"/>
<polyline points="743,439 747,433 760,429 773,429 777,439" fill="none" stroke="#000" stroke-width="1.6" shape-rendering="auto"/>
<polyline points="743,439 750,448 760,443 763,449 777,453 793,453" fill="none" stroke="#000" stroke-width="1.6" shape-rendering="auto"/>
<polyline points="732,446 735,456 733,460" fill="none" stroke="#000" stroke-width="1.6" shape-rendering="auto"/>
<polyline points="763,449 770,466 768,473" fill="none" stroke="#000" stroke-width="1.6" shape-rendering="auto"/>
<polyline points="747,389 743,403 748,416" fill="none" stroke="#000" stroke-width="1.6" shape-rendering="auto"/>
<polyline points="753,383 755,396 763,399" fill="none" stroke="#000" stroke-width="1.6" shape-rendering="auto"/>
<polyline points="703,456 707,448 704,442" fill="none" stroke="#000" stroke-width="1.6" shape-rendering="auto"/>
<polyline points="680,462 672,454 668,452" fill="none" stroke="#000" stroke-width="1.6" shape-rendering="auto"/>
<polyline points="767,383 768,392 775,388" fill="none" stroke="#000" stroke-width="1.6" shape-rendering="auto"/>
<polyline points="783,473 790,476 793,466" fill="none" stroke="#000" stroke-width="1.6" shape-rendering="auto"/>
<polyline points="793,466 800,470 812,470 820,472 833,466" fill="none" stroke="#000" stroke-width="1.6" shape-rendering="auto"/>
<polyline points="620,542 635,542 640,533 650,530 660,520 662,507 667,500" fill="none" stroke="#000" stroke-width="1.6" shape-rendering="auto"/>
<polyline points="635,543 643,557 655,565 670,573 685,591 703,591 717,573 723,567 737,570 760,572 767,575 778,577 786,575" fill="none" stroke="#000" stroke-width="1.6" shape-rendering="auto"/>
<polyline points="707,501 702,521 715,550 723,567" fill="none" stroke="#000" stroke-width="1.6" shape-rendering="auto"/>
<polyline points="620,555 642,555" fill="none" stroke="#000" stroke-width="1.6" shape-rendering="auto"/>
<polyline points="620,555 617,573 622,578" fill="none" stroke="#000" stroke-width="1.6" shape-rendering="auto"/>
<polyline points="600,578 617,578" fill="none" stroke="#000" stroke-width="1.6" shape-rendering="auto"/>
<polyline points="642,557 637,580 627,600 617,602" fill="none" stroke="#000" stroke-width="1.6" shape-rendering="auto"/>
<polyline points="617,602 622,612 630,620 640,628 648,640 650,652" fill="none" stroke="#000" stroke-width="1.6" shape-rendering="auto"/>
<polyline points="637,580 650,585 665,590 680,585 690,593 680,604" fill="none" stroke="#000" stroke-width="1.6" shape-rendering="auto"/>
<polyline points="627,600 640,605 655,608 668,615 680,616 693,612 733,614" fill="none" stroke="#000" stroke-width="1.6" shape-rendering="auto"/>
<polyline points="650,615 645,630 655,640 660,652" fill="none" stroke="#000" stroke-width="1.6" shape-rendering="auto"/>
<polyline points="668,615 672,630 668,645" fill="none" stroke="#000" stroke-width="1.6" shape-rendering="auto"/>
<polyline points="693,612 700,625 705,640" fill="none" stroke="#000" stroke-width="1.6" shape-rendering="auto"/>
<polyline points="735,572 742,585 731,610 739,621 735,633 744,633 754,633 769,631 778,640 786,650" fill="none" stroke="#000" stroke-width="1.6" shape-rendering="auto"/>
<polyline points="784,540 786,557 782,574 780,582" fill="none" stroke="#000" stroke-width="1.6" shape-rendering="auto"/>
<polyline points="780,582 773,595 769,612 778,629 782,646" fill="none" stroke="#000" stroke-width="1.6" shape-rendering="auto"/>
<polyline points="782,574 829,574" fill="none" stroke="#000" stroke-width="1.6" shape-rendering="auto"/>
<polyline points="731,655 799,655 829,659 871,655" fill="none" stroke="#000" stroke-width="1.6" shape-rendering="auto"/>
<polyline points="750,655 754,684" fill="none" stroke="#000" stroke-width="1.6" shape-rendering="auto"/>
<polyline points="807,659 809,684" fill="none" stroke="#000" stroke-width="1.6" shape-rendering="auto"/>
<polyline points="826,659 829,684" fill="none" stroke="#000" stroke-width="1.6" shape-rendering="auto"/>
<polyline points="850,659 854,684" fill="none" stroke="#000" stroke-width="1.6" shape-rendering="auto"/>
<polyline points="785,655 780,684" fill="none" stroke="#000" stroke-width="1.6" shape-rendering="auto"/>
<polyline points="829,574 834,590 829,610" fill="none" stroke="#000" stroke-width="1.6" shape-rendering="auto"/>
<polyline points="800,590 812,600 822,612" fill="none" stroke="#000" stroke-width="1.6" shape-rendering="auto"/>
<polyline points="830,514 839,518 846,514 851,505 855,505 852,500" fill="none" stroke="#000" stroke-width="1.6" shape-rendering="auto"/>
<polyline points="840,523 855,523 864,531 869,543 880,545" fill="none" stroke="#000" stroke-width="1.6" shape-rendering="auto"/>
<polyline points="833,538 846,538 840,523" fill="none" stroke="#000" stroke-width="1.6" shape-rendering="auto"/>
<polyline points="870,500 880,525 880,532 872,543" fill="none" stroke="#000" stroke-width="1.6" shape-rendering="auto"/>
<polyline points="890,560 894,567 892,575 901,577" fill="none" stroke="#000" stroke-width="1.6" shape-rendering="auto"/>
<polyline points="870,590 880,588 890,592 898,588" fill="none" stroke="#000" stroke-width="1.6" shape-rendering="auto"/>
<polyline points="846,458 852,454 860,460 858,466 864,475 867,475" fill="none" stroke="#000" stroke-width="1.6" shape-rendering="auto"/>
<polyline points="827,498 833,490 847,490 853,485 862,483 867,485 873,495 870,500" fill="none" stroke="#000" stroke-width="1.6" shape-rendering="auto"/>
<polyline points="867,485 880,483 885,491 892,497" fill="none" stroke="#000" stroke-width="1.6" shape-rendering="auto"/>
<polyline points="820,545 826,548" fill="none" stroke="#000" stroke-width="1.6" shape-rendering="auto"/>
<polyline points="795,372 810,376 825,380" fill="none" stroke="#000" stroke-width="1.6" shape-rendering="auto"/>
</svg>
<svg class="a" style="left:231px;top:262px;overflow:hidden" width="670" height="421" viewBox="231 262 670 421">
<polyline points="522,307 520,327 526,355" fill="none" stroke="#000" stroke-width="2"/>
<polyline points="526,355 560,355 562,351 605,351" fill="none" stroke="#000" stroke-width="2"/>
<polyline points="532,355 512,397" fill="none" stroke="#000" stroke-width="2"/>
<polyline points="492,403 507,403" fill="none" stroke="#000" stroke-width="2"/>
<polyline points="507,403 510,454 508,505" fill="none" stroke="#000" stroke-width="2"/>
<polyline points="607,352 606,367 612,380 616,389 614,394 619,401 605,425 595,448 582,473" fill="none" stroke="#000" stroke-width="2"/>
<polyline points="612,382 652,382" fill="none" stroke="#000" stroke-width="2"/>
<polyline points="358,570 363,578 360,588 362,593 357,603" fill="none" stroke="#000" stroke-width="2"/>
<polyline points="640,455 647,460 643,472 644,477 639,487" fill="none" stroke="#000" stroke-width="2"/>
<polyline points="605,351 625,316 640,299 667,299 677,316 689,327 692,331 697,330 708,330" fill="none" stroke="#000" stroke-width="2"/>
<polyline points="692,331 688,349" fill="none" stroke="#000" stroke-width="2"/>
<polyline points="662,297 680,262" fill="none" stroke="#000" stroke-width="2"/>
<polyline points="406,506 578,506" fill="none" stroke="#000" stroke-width="2"/>
<polyline points="436,507 440,520 436,532 442,550 448,580 450,603 452,607 537,607 555,614" fill="none" stroke="#000" stroke-width="2"/>
<polyline points="575,510 575,547 598,546" fill="none" stroke="#000" stroke-width="2"/>
<polyline points="570,547 566,565 569,585 565,602 560,608 557,615 570,640 582,665 585,684" fill="none" stroke="#000" stroke-width="2"/>
<polyline points="655,655 645,670 638,684" fill="none" stroke="#000" stroke-width="2"/>
<polyline points="580,475 630,475" fill="none" stroke="#000" stroke-width="2"/>
<polyline points="232,635 309,635 322,610" fill="none" stroke="#000" stroke-width="2"/>
<polyline points="251,633 253,645 250,660 253,672 251,684" fill="none" stroke="#000" stroke-width="2"/>
<line x1="490" y1="336" x2="588" y2="301" stroke="#00ff00" stroke-width="3"/>
<line x1="476" y1="358" x2="450" y2="464" stroke="#00ff00" stroke-width="3"/>
<line x1="490" y1="358" x2="522" y2="424" stroke="#00ff00" stroke-width="3"/>
<line x1="582" y1="318" x2="527" y2="424" stroke="#00ff00" stroke-width="3"/>
<line x1="615" y1="350" x2="533" y2="424" stroke="#00ff00" stroke-width="3"/>
<line x1="617" y1="318" x2="630" y2="327" stroke="#00ff00" stroke-width="3"/>
<line x1="635" y1="350" x2="629" y2="424" stroke="#00ff00" stroke-width="3"/>
<line x1="541" y1="427" x2="610" y2="427" stroke="#00ff00" stroke-width="3"/>
<line x1="491" y1="445" x2="456" y2="462" stroke="#00ff00" stroke-width="3"/>
<line x1="459" y1="420" x2="450" y2="464" stroke="#00ff00" stroke-width="3"/>
<line x1="458" y1="486" x2="501" y2="556" stroke="#00ff00" stroke-width="3"/>
<line x1="431" y1="486" x2="405" y2="516" stroke="#00ff00" stroke-width="3"/>
<line x1="521" y1="446" x2="503" y2="556" stroke="#00ff00" stroke-width="3"/>
<line x1="551" y1="446" x2="602" y2="484" stroke="#00ff00" stroke-width="3"/>
<line x1="621" y1="446" x2="607" y2="484" stroke="#00ff00" stroke-width="3"/>
<line x1="578" y1="506" x2="506" y2="556" stroke="#00ff00" stroke-width="3"/>
<line x1="433" y1="534" x2="498" y2="556" stroke="#00ff00" stroke-width="3"/>
<line x1="421" y1="540" x2="491" y2="612" stroke="#00ff00" stroke-width="3"/>
<line x1="491" y1="612" x2="594" y2="660" stroke="#00ff00" stroke-width="3"/>
<line x1="501" y1="578" x2="500" y2="615" stroke="#00ff00" stroke-width="3"/>
<line x1="523" y1="578" x2="556" y2="612" stroke="#00ff00" stroke-width="3"/>
<line x1="556" y1="612" x2="600" y2="656" stroke="#00ff00" stroke-width="3"/>
<line x1="607" y1="506" x2="607" y2="656" stroke="#00ff00" stroke-width="3"/>
<line x1="545" y1="638" x2="590" y2="660" stroke="#00ff00" stroke-width="3"/>
<line x1="505" y1="638" x2="510" y2="684" stroke="#00ff00" stroke-width="3"/>
<line x1="592" y1="678" x2="588" y2="684" stroke="#00ff00" stroke-width="3"/>
<line x1="630" y1="678" x2="640" y2="684" stroke="#00ff00" stroke-width="3"/>
<line x1="796" y1="534" x2="839" y2="580" stroke="#00ff00" stroke-width="3"/>
<line x1="858" y1="592" x2="901" y2="617" stroke="#00ff00" stroke-width="3"/>
<line x1="880" y1="684" x2="901" y2="664" stroke="#00ff00" stroke-width="3"/>
<line x1="250" y1="604" x2="232" y2="572" stroke="#00ff00" stroke-width="3"/>
<line x1="232" y1="603" x2="250" y2="603" stroke="#00ff00" stroke-width="3"/>
</svg>
<div class="a" style="left:231px;top:262px;width:670px;height:421px;overflow:hidden">
<div class="a" style="left:246px;top:74px;width:13px;height:10px;background:#00ff00;border:1px solid #000;font-size:10.5px;line-height:8px;text-align:center;color:#000;white-space:nowrap;overflow:visible;font-weight:bold;font-style:italic;">1</div>
<div class="a" style="left:227px;top:84px;width:53px;height:13px;background:#00ff00;border:1px solid #000;font-size:10.5px;line-height:11px;text-align:center;color:#000;white-space:nowrap;overflow:visible;">Canadian</div>
<div class="a" style="left:358px;top:34px;width:13px;height:10px;background:#00ff00;border:1px solid #000;font-size:10.5px;line-height:8px;text-align:center;color:#000;white-space:nowrap;overflow:visible;font-weight:bold;font-style:italic;">1</div>
<div class="a" style="left:342px;top:44px;width:47px;height:13px;background:#00ff00;border:1px solid #000;font-size:10.5px;line-height:11px;text-align:center;color:#000;white-space:nowrap;overflow:visible;">Denmark</div>
<div class="a" style="left:390px;top:66px;width:38px;height:10px;background:#00ff00;border:1px solid #000;font-size:10.5px;line-height:8px;text-align:center;color:#000;white-space:nowrap;overflow:visible;font-weight:bold;font-style:italic;">6/5/-/2</div>
<div class="a" style="left:374px;top:75px;width:70px;height:14px;background:#00ff00;border:1px solid #000;font-size:10.5px;line-height:12px;text-align:center;color:#000;white-space:nowrap;overflow:visible;">Faeroes Gap</div>
<div class="a" style="left:283px;top:161px;width:29px;height:11px;background:#00ff00;border:1px solid #000;font-size:10.5px;line-height:9px;text-align:center;color:#000;white-space:nowrap;overflow:visible;font-weight:bold;font-style:italic;">10/4</div>
<div class="a" style="left:260px;top:171px;width:73px;height:14px;background:#00ff00;border:1px solid #000;font-size:10.5px;line-height:12px;text-align:center;color:#000;white-space:nowrap;overflow:visible;">North Atlantic</div>
<div class="a" style="left:379px;top:161px;width:44px;height:11px;background:#00ff00;border:1px solid #000;font-size:10.5px;line-height:9px;text-align:center;color:#000;white-space:nowrap;overflow:visible;font-weight:bold;font-style:italic;">10/7/-/1</div>
<div class="a" style="left:363px;top:171px;width:75px;height:14px;background:#00ff00;border:1px solid #000;font-size:10.5px;line-height:12px;text-align:center;color:#000;white-space:nowrap;overflow:visible;">Bay of Biscay</div>
<div class="a" style="left:210px;top:202px;width:22px;height:10px;background:#00ff00;border:1px solid #000;font-size:10.5px;line-height:8px;text-align:center;color:#000;white-space:nowrap;overflow:visible;font-weight:bold;font-style:italic;">8/4</div>
<div class="a" style="left:190px;top:212px;width:60px;height:13px;background:#00ff00;border:1px solid #000;font-size:10.5px;line-height:11px;text-align:center;color:#000;white-space:nowrap;overflow:visible;">East Coast</div>
<div class="a" style="left:164px;top:253px;width:23px;height:11px;background:#00ff00;border:1px solid #000;font-size:10.5px;line-height:9px;text-align:center;color:#000;white-space:nowrap;overflow:visible;font-weight:bold;font-style:italic;">3/3</div>
<div class="a" style="left:147px;top:264px;width:57px;height:13px;background:#00ff00;border:1px solid #000;font-size:10.5px;line-height:11px;text-align:center;color:#000;white-space:nowrap;overflow:visible;">Caribbean</div>
<div class="a" style="left:17px;top:337px;width:15px;height:10px;background:#00ff00;border:1px solid #000;font-size:10.5px;line-height:8px;text-align:center;color:#000;white-space:nowrap;overflow:visible;font-weight:bold;font-style:italic;">1</div>
<div class="a" style="left:-5px;top:347px;width:70px;height:14px;background:#00ff00;border:1px solid #000;font-size:10.5px;line-height:12px;text-align:center;color:#000;white-space:nowrap;overflow:visible;">Mexican Coast</div>
<div class="a" style="left:255px;top:294px;width:40px;height:10px;background:#00ff00;border:1px solid #000;font-size:10.5px;line-height:8px;text-align:center;color:#000;white-space:nowrap;overflow:visible;font-weight:bold;font-style:italic;">4/5/-/1</div>
<div class="a" style="left:234px;top:304px;width:82px;height:14px;background:#00ff00;border:1px solid #000;font-size:10.5px;line-height:12px;text-align:center;color:#000;white-space:nowrap;overflow:visible;">Central Atlantic</div>
<div class="a" style="left:357px;top:221px;width:45px;height:11px;background:#00ff00;border:1px solid #000;font-size:10.5px;line-height:9px;text-align:center;color:#000;white-space:nowrap;overflow:visible;font-weight:bold;font-style:italic;">5/13/-/1</div>
<div class="a" style="left:349px;top:231px;width:61px;height:15px;background:#00ff00;border:1px solid #000;font-size:10.5px;line-height:13px;text-align:center;color:#000;white-space:nowrap;overflow:visible;">St. Vincent</div>
<div class="a" style="left:445px;top:221px;width:28px;height:11px;background:#00ff00;border:1px solid #000;font-size:10.5px;line-height:9px;text-align:center;color:#000;white-space:nowrap;overflow:visible;font-weight:bold;font-style:italic;">-/-/1</div>
<div class="a" style="left:439px;top:231px;width:41px;height:15px;background:#00ff00;border:1px solid #000;font-size:10.5px;line-height:13px;text-align:center;color:#000;white-space:nowrap;overflow:visible;">W Med</div>
<div class="a" style="left:262px;top:353px;width:23px;height:11px;background:#00ff00;border:1px solid #000;font-size:10.5px;line-height:9px;text-align:center;color:#000;white-space:nowrap;overflow:visible;font-weight:bold;font-style:italic;">2/2</div>
<div class="a" style="left:215px;top:364px;width:116px;height:14px;background:#00ff00;border:1px solid #000;font-size:10.5px;line-height:12px;text-align:center;color:#000;white-space:nowrap;overflow:visible;">Mouths of the Amazon</div>
<div class="a" style="left:361px;top:394px;width:40px;height:10px;background:#00ff00;border:1px solid #000;font-size:10.5px;line-height:8px;text-align:center;color:#000;white-space:nowrap;overflow:visible;font-weight:bold;font-style:italic;">6/4/-/1</div>
<div class="a" style="left:348px;top:404px;width:66px;height:13px;background:#00ff00;border:1px solid #000;font-size:10.5px;line-height:11px;text-align:center;color:#000;white-space:nowrap;overflow:visible;">Cape Verde</div>
<div class="a" style="left:541px;top:250px;width:24px;height:10px;background:#00ff00;border:1px solid #000;font-size:10.5px;line-height:8px;text-align:center;color:#000;white-space:nowrap;overflow:visible;font-weight:bold;font-style:italic;">1/7</div>
<div class="a" style="left:533px;top:260px;width:39px;height:13px;background:#00ff00;border:1px solid #000;font-size:10.5px;line-height:11px;text-align:center;color:#000;white-space:nowrap;overflow:visible;">E Med</div>
<div class="a" style="left:579px;top:181px;width:14px;height:11px;background:#00ff00;border:1px solid #000;font-size:10.5px;line-height:9px;text-align:center;color:#000;white-space:nowrap;overflow:visible;font-weight:bold;font-style:italic;">1</div>
<div class="a" style="left:570px;top:191px;width:33px;height:14px;background:#00ff00;border:1px solid #000;font-size:10.5px;line-height:12px;text-align:center;color:#000;white-space:nowrap;overflow:visible;">Black</div>
<div class="a" style="left:651px;top:198px;width:15px;height:10px;background:#00ff00;border:1px solid #000;font-size:10.5px;line-height:8px;text-align:center;color:#000;white-space:nowrap;overflow:visible;font-weight:bold;font-style:italic;">2</div>
<div class="a" style="left:636px;top:208px;width:46px;height:13px;background:#00ff00;border:1px solid #000;font-size:10.5px;line-height:11px;text-align:center;color:#000;white-space:nowrap;overflow:visible;">Caspian</div>
<div class="a" style="left:596px;top:318px;width:39px;height:10px;background:#00ff00;border:1px solid #000;font-size:10.5px;line-height:8px;text-align:center;color:#000;white-space:nowrap;overflow:visible;font-weight:bold;font-style:italic;">1/3/-/1</div>
<div class="a" style="left:602px;top:327px;width:26px;height:14px;background:#00ff00;border:1px solid #000;font-size:10.5px;line-height:12px;text-align:center;color:#000;white-space:nowrap;overflow:visible;">Red</div>
<div class="a" style="left:667px;top:275px;width:13px;height:24px;background:#00ff00;border:1px solid #000;font-size:10.5px;line-height:22px;text-align:center;color:#000;white-space:nowrap;overflow:visible;"></div>
<div class="a" style="left:666px;top:388px;width:14px;height:15px;background:#00ff00;border:1px solid #000;font-size:10.5px;line-height:13px;text-align:center;color:#000;white-space:nowrap;overflow:visible;"></div>
<div class="a" style="left:443px;top:20px;width:61px;height:14px;background:#fffdf4;border:1px solid #000;font-size:10.5px;line-height:12px;text-align:center;color:#000;white-space:nowrap">Norwegian</div>
<div class="a" style="left:536px;top:-4px;width:73px;height:14px;background:#fffdf4;border:1px solid #000;font-size:10.5px;line-height:12px;text-align:center;color:#000;white-space:nowrap">Arctic Ocean</div>
<div class="a" style="left:504px;top:100px;width:34px;height:14px;background:#fffdf4;border:1px solid #000;font-size:10.5px;line-height:12px;text-align:center;color:#000;white-space:nowrap">Baltic</div>
<div class="a" style="left:454px;top:120px;width:34px;height:14px;background:#fffdf4;border:1px solid #000;font-size:10.5px;line-height:12px;text-align:center;color:#000;white-space:nowrap">North</div>
<div class="a" style="left:96px;top:72px;width:46px;height:14px;background:#fffdf4;border:1px solid #000;font-size:10.5px;line-height:12px;text-align:center;color:#000;white-space:nowrap">Hudson</div>
<div class="a" style="left:70px;top:292px;width:54px;height:14px;background:#fffdf4;border:1px solid #000;font-size:10.5px;line-height:12px;text-align:center;color:#000;white-space:nowrap">G Mexico</div>
<div class="a" style="left:477px;top:208px;width:36px;height:14px;background:#fffdf4;border:1px solid #000;font-size:10.5px;line-height:12px;text-align:center;color:#000;white-space:nowrap">Italian</div>
</div>
<div class="a" style="left:231px;top:261px;width:688px;height:1px;background:#000"></div>
<div class="a" style="left:231px;top:262px;width:1px;height:421px;background:#000"></div>
<div class="a" style="left:901px;top:262px;width:17px;height:421px;background:linear-gradient(90deg,#000 0,#000 1px,#d8d0c0 1px,#e6dccb 4px,#000 4px,#000 5px,#a89878 5px,#6a5a40 9px,#4a3e2c 12px,#000 12px,#000 13px,#d8d0c0 13px,#c8bca8 16px,#000 16px)"></div>
<div class="a" style="left:901px;top:262px;width:17px;height:16px;background:linear-gradient(#9a8a68,#3a3020);border:1px solid #000"></div>
<div class="a" style="left:905px;top:266px;width:0;height:0;border-left:4px solid transparent;border-right:4px solid transparent;border-bottom:7px solid #d8ccb0"></div>
<div class="a" style="left:901px;top:667px;width:17px;height:16px;background:linear-gradient(#9a8a68,#3a3020);border:1px solid #000"></div>
<div class="a" style="left:905px;top:671px;width:0;height:0;border-left:4px solid transparent;border-right:4px solid transparent;border-top:7px solid #d8ccb0"></div>
<div class="a" style="left:902px;top:279px;width:15px;height:17px;background:linear-gradient(90deg,#fff,#d0c8bc 60%,#a09480);border:2px solid #000;border-radius:1px"></div>
<div class="a" style="left:232px;top:683px;width:669px;height:17px;background:linear-gradient(#000 0,#000 1px,#d8d0c0 1px,#e6dccb 3px,#000 3px,#000 4px,#a89878 4px,#6a5a40 8px,#4a3e2c 10px,#000 11px,#000 12px,#d8d0c0 12px,#c8bca8 16px,#000 16px)"></div>
<div class="a" style="left:232px;top:683px;width:17px;height:17px;background:linear-gradient(#9a8a68,#3a3020);border:1px solid #000"></div>
<div class="a" style="left:236px;top:687px;width:0;height:0;border-top:4px solid transparent;border-bottom:4px solid transparent;border-right:7px solid #d8ccb0"></div>
<div class="a" style="left:884px;top:683px;width:17px;height:17px;background:linear-gradient(#9a8a68,#3a3020);border:1px solid #000"></div>
<div class="a" style="left:889px;top:687px;width:0;height:0;border-top:4px solid transparent;border-bottom:4px solid transparent;border-left:7px solid #d8ccb0"></div>
<div class="a" style="left:559px;top:684px;width:16px;height:15px;background:linear-gradient(#fff,#d0c8bc 60%,#a09480);border:2px solid #000;border-radius:1px"></div>
<div class="a" style="left:901px;top:683px;width:17px;height:17px;background:#d0c8bc;border:1px solid #000;border-top:none"></div>

<!-- ============ LEFT CONTROLS ============ -->
<div class="tx" style="left:26px;top:476px;font-size:12px;font-weight:bold;line-height:14px;color:#1a0a08;letter-spacing:.55px">COMPUTED</div>
<div class="a" style="left:104px;top:475px;width:24px;height:17px;border:1px solid #000;background:linear-gradient(#f2ede5,#d2c8ba 50%,#b2a696)"></div>
<svg class="a" style="left:107px;top:478px" width="18" height="11" viewBox="0 0 18 11"><path d="M1,4 H9 V1 L16,5.5 L9,10 V7 H1 Z" fill="#f00" stroke="#000" stroke-width="1"/></svg>
<div class="panel" style="left:24px;top:492px;width:104px;height:96px"></div>
<div class="grp" style="left:26px;top:500px;width:102px;height:87px;"></div>
<div class="glab" style="left:32px;top:494px">In Place</div>
<div class="rd" style="left:34px;top:512px"></div><div class="rl" style="left:52px;top:512px">Produce</div>
<div class="rd" style="left:34px;top:530px"></div><div class="rl" style="left:52px;top:530px">Save</div>
<div class="rd" style="left:34px;top:548px"></div><div class="rl" style="left:52px;top:548px">Idle</div>
<div class="rd" style="left:34px;top:566px"></div><div class="rl" style="left:52px;top:566px">Lost</div>
<div class="panel" style="left:24px;top:585px;width:101px;height:99px"></div>
<div class="grp" style="left:24px;top:594px;width:100px;height:88px;border-left:none;box-shadow:0 -1px 0 #b8a8a4"></div>
<div class="glab" style="left:28px;top:588px">Rail/Ship</div>
<div class="rd on" style="left:30px;top:606px"></div><div class="rl" style="left:48px;top:606px">Produce</div>
<div class="rd" style="left:30px;top:624px"></div><div class="rl" style="left:48px;top:624px">Save</div>
<div class="rd" style="left:30px;top:642px"></div><div class="rl" style="left:48px;top:642px">Where To</div>
<div class="rd" style="left:30px;top:660px"></div><div class="rl" style="left:48px;top:660px">Trade</div>
<div class="panel" style="left:128px;top:474px;width:102px;height:249px"></div>
<div class="grp" style="left:129px;top:482px;width:99px;height:239px;"></div>
<div class="glab" style="left:135px;top:476px">Filter</div>
<div class="rd" style="left:137px;top:498px"></div><div class="rl" style="left:155px;top:498px">No Filter</div>
<div class="rd" style="left:137px;top:520px"></div><div class="rl" style="left:155px;top:520px">Resources</div>
<div class="rd" style="left:137px;top:542px"></div><div class="rl" style="left:155px;top:542px">Non-oil</div>
<div class="rd" style="left:137px;top:564px"></div><div class="rl" style="left:155px;top:564px">Oil</div>
<div class="rd" style="left:137px;top:586px"></div><div class="rl" style="left:155px;top:586px">Lost</div>
<div class="rd" style="left:137px;top:608px"></div><div class="rl" style="left:155px;top:608px">Saved</div>
<div class="rd" style="left:137px;top:630px"></div><div class="rl" style="left:155px;top:630px">Factories</div>
<div class="rd" style="left:137px;top:652px"></div><div class="rl" style="left:155px;top:652px">Idle</div>
<div class="rd" style="left:137px;top:674px"></div><div class="rl" style="left:155px;top:674px">Trade</div>
<div class="rd on" style="left:137px;top:696px"></div><div class="rl" style="left:155px;top:696px">Convoyed</div>
<div class="btn" style="left:26px;top:688px;width:96px;height:30px;background:linear-gradient(#d6d2cc,#c8c2ba 40%,#aca49a);color:#1a0a08"><span class="vs" style="position:absolute;left:15px;top:7px;font-size:11px;line-height:13px;transform:scaleX(1.12)">Recompute</span></div>

<!-- ============ RIGHT CONTROLS ============ -->
<div class="panel" style="left:934px;top:266px;width:96px;height:77px"></div>
<div class="grp" style="left:935px;top:274px;width:94px;height:67px;"></div>
<div class="glab" style="left:942px;top:268px">Layouts</div>
<div class="rd" style="left:943px;top:285px"></div><div class="rl" style="left:961px;top:285px">Summary</div>
<div class="rd" style="left:943px;top:303px"></div><div class="rl" style="left:961px;top:303px">Expanded</div>
<div class="rd on" style="left:943px;top:321px"></div><div class="rl" style="left:961px;top:321px">Route</div>
<svg class="a" style="left:938px;top:344px" width="88" height="55" viewBox="0 0 60 30" preserveAspectRatio="none">
<rect width="60" height="30" fill="#00247d"/>
<path d="M0,0 L60,30 M60,0 L0,30" stroke="#fff" stroke-width="6"/>
<path d="M0,0 L60,30 M60,0 L0,30" stroke="#cf142b" stroke-width="2"/>
<path d="M30,0 V30 M0,15 H60" stroke="#fff" stroke-width="10"/>
<path d="M30,0 V30 M0,15 H60" stroke="#cf142b" stroke-width="6"/>
</svg>
<div class="panel" style="left:934px;top:476px;width:90px;height:96px"></div>
<div class="grp" style="left:935px;top:484px;width:89px;height:87px;"></div>
<div class="glab" style="left:942px;top:478px">Convoys</div>
<div class="rd" style="left:943px;top:496px"></div><div class="rl" style="left:961px;top:496px">Mine</div>
<div class="rd" style="left:943px;top:514px"></div><div class="rl" style="left:961px;top:514px">Axis</div>
<div class="rd on" style="left:943px;top:532px"></div><div class="rl" style="left:961px;top:532px">Allied</div>
<div class="rd" style="left:943px;top:550px"></div><div class="rl" style="left:961px;top:550px">1 Route</div>
<div class="panel" style="left:934px;top:575px;width:90px;height:51px"></div>
<div class="cb" style="left:934px;top:594px"></div>
<div class="a" style="left:952px;top:575px;width:58px;height:50px;border:1px dotted #5a3020"></div>
<div class="rl" style="left:953px;top:577px;line-height:16px">Show<br>Unused<br>Convoys</div>
<div class="btn" style="left:934px;top:678px;width:90px;height:30px;line-height:28px"><span class="ns">Coastal Hexes</span></div>

<!-- ============ BOTTOM BUTTONS ============ -->
<div class="btn" style="left:252px;top:722px;width:130px;height:30px;line-height:28px"><svg width="18" height="18" viewBox="0 0 18 18" style="position:absolute;left:39px;top:4px"><rect x="6.5" y="1.5" width="9" height="13" fill="#9a9a9a" stroke="#000"/><path d="M9.5,2.5 L14.5,1.5 L14.5,14.5 L9.5,15.5 Z" fill="#6a6a6a" stroke="#000"/><path d="M0.5,5 L5,3 L8,6 L5,8.5 Z" fill="#e00000" stroke="#500"/><path d="M1,14 H15 M1,16.5 H13" stroke="#000" stroke-width="1.5" stroke-dasharray="2 1.5"/></svg><span class="ns" style="position:absolute;left:59px;top:7px;line-height:14px"><u>C</u>lose</span></div>
<div class="btn" style="left:414px;top:722px;width:110px;height:30px;line-height:28px"><span class="ns">Switch Map</span></div>
<div class="panel" style="left:530px;top:730px;width:139px;height:17px"></div>
<div class="cb" style="left:531px;top:731px"></div>
<div class="rl" style="left:550px;top:731px;letter-spacing:.45px">Center linked map</div>
<div class="btn" style="left:675px;top:722px;width:110px;height:30px;line-height:28px"><span class="ns">Trade Agreements</span></div>
<div class="btn" style="left:794px;top:722px;width:110px;height:30px;line-height:28px"><svg width="20" height="18" viewBox="0 0 20 18" style="position:absolute;left:20px;top:5px"><path d="M2,8 L11,2 L18,6 L9,13 Z" fill="#7a2a9a" stroke="#000"/><path d="M2,8 L9,13 L9,16 L2,11 Z" fill="#5a1a7a" stroke="#000"/><path d="M9,13 L18,6 L18,9 L9,16 Z" fill="#e8e8e8" stroke="#000"/><text x="8" y="9" font-size="6" fill="#ff0" font-family="Liberation Sans" font-weight="bold">?</text></svg><span class="ns" style="position:absolute;left:40px;top:7px;line-height:14px">Form <u>H</u>elp</span></div>
<div class="btn" style="left:914px;top:722px;width:110px;height:30px;line-height:28px"><svg width="20" height="18" viewBox="0 0 20 18" style="position:absolute;left:20px;top:5px"><path d="M2,8 L11,2 L18,6 L9,13 Z" fill="#7a2a9a" stroke="#000"/><path d="M2,8 L9,13 L9,16 L2,11 Z" fill="#5a1a7a" stroke="#000"/><path d="M9,13 L18,6 L18,9 L9,16 Z" fill="#e8e8e8" stroke="#000"/><text x="8" y="9" font-size="6" fill="#ff0" font-family="Liberation Sans" font-weight="bold">?</text></svg><span class="ns" style="position:absolute;left:39px;top:7px;line-height:14px"><u>M</u>ap Help</span></div>

</body></html>
